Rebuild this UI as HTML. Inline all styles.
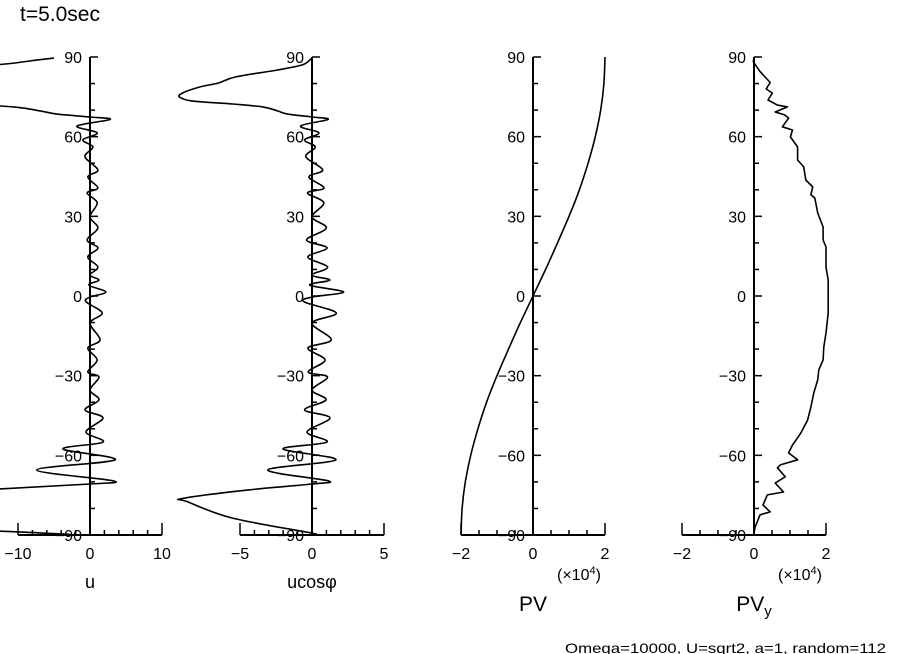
<!DOCTYPE html>
<html><head><meta charset="utf-8"><style>
html,body{margin:0;padding:0;background:#fff;}
svg{display:block;font-family:"Liberation Sans",sans-serif;}
</style></head><body>
<svg id="chart" width="904" height="654" viewBox="0 0 904 654" xmlns="http://www.w3.org/2000/svg">
<text x="20" y="21" font-size="21">t=5.0sec</text>
<text x="565" y="653" font-size="14" textLength="321" lengthAdjust="spacingAndGlyphs">Omega=10000, U=sqrt2, a=1, random=112</text>
<g id="panels"></g>
</svg>
<script>
// u profile (latitude, u)
const uLat = [89.6,88.9,87,85.1,82.5,80.2,78.7,76.4,74.9,73.4,72.3,71.2,69.7,68.5,67.4,66.5,64.0,61.4,58.8,56.1,52.4,47.5,44.8,40.7,38.8,35.1,29.8,25.6,21.1,18.1,14.7,10.9,7.9,6.0,4.1,1.5,-0.4,-2.2,-6.4,-10.2,-16.5,-19.6,-24.1,-28.6,-30.5,-35.4,-39.1,-42.9,-45.9,-51.2,-55.0,-57.6,-61.7,-65.5,-69.6,-70.8,-73.0,-76.2,-77.5,-83.6,-89.2,-89.6];
const uVal = [-5,-7.3,-13.4,-28,-40.6,-38.2,-39.8,-38.3,-35.3,-29,-18.1,-10.6,-6.9,-4.6,0,2.8,-1.8,1.0,-1.0,0.4,-0.7,1.1,-0.3,1.1,-0.4,1.0,0,1.1,-0.4,1.1,-0.3,1.1,0,1.25,-0.15,2.2,0,-0.55,1.7,0,1.4,-0.3,1.0,-0.3,1.25,0,1.25,-0.7,1.8,-0.55,1.8,-3.75,3.5,-7.4,3.2,0,-15,-37.6,-39.9,-49.8,-7,-4.3];
// PV profile
const pvLat = [90,80,70,60,50,40,30,20,10,0,-10,-20,-30,-40,-50,-60,-70,-80,-90];
const pvVal = [2.0,1.97,1.88,1.73,1.53,1.29,1.0,0.68,0.35,0,-0.35,-0.68,-1.0,-1.29,-1.53,-1.73,-1.88,-1.97,-2.0];
// PVy profile
const pvyLat = [90,88.2,84.5,80.4,78.0,76.4,73.8,71.9,71.2,69.3,68.2,67.0,63.7,62.5,59.9,56.1,51.2,48.6,43.7,41.1,38.1,36.9,31.3,26.0,21.1,18.5,10.9,6.0,-0.4,-6.4,-13.9,-19.2,-24.1,-27.8,-31.6,-36.5,-41.8,-46.7,-51.6,-53.4,-56.1,-59.1,-61.7,-63.6,-64.7,-68.1,-70.4,-73.8,-74.9,-78.7,-81.3,-82.4,-87.0,-89.2,-90];
const pvyVal = [0,-0.02,0.17,0.45,0.34,0.51,0.39,0.65,0.93,0.59,0.85,0.96,0.79,1.07,1.01,1.21,1.21,1.38,1.44,1.63,1.58,1.69,1.77,1.92,1.92,2.0,2.0,2.06,2.06,2.06,2.0,1.94,1.92,1.80,1.77,1.66,1.58,1.49,1.30,1.21,1.07,0.96,1.21,0.73,0.65,0.87,0.59,0.82,0.37,0.25,0.45,0.17,0.03,0,0];
const yTicks = [90,60,30,0,-30,-60,-90];

const NS="http://www.w3.org/2000/svg";
const root=document.getElementById('panels');
const yTop=57, yBot=535;
function yS(lat){return yTop+(90-lat)*(yBot-yTop)/180;}
function mk(tag,attrs,parent){const e=document.createElementNS(NS,tag);for(const k in attrs)e.setAttribute(k,attrs[k]);(parent||root).appendChild(e);return e;}
function smooth(pts){
  let d='M'+pts[0][0].toFixed(1)+','+pts[0][1].toFixed(1);
  for(let i=0;i<pts.length-1;i++){
    const p0=pts[Math.max(0,i-1)],p1=pts[i],p2=pts[i+1],p3=pts[Math.min(pts.length-1,i+2)];
    const c1x=p1[0]+(p2[0]-p0[0])/6,c1y=p1[1]+(p2[1]-p0[1])/6;
    const c2x=p2[0]-(p3[0]-p1[0])/6,c2y=p2[1]-(p3[1]-p1[1])/6;
    d+=' C'+c1x.toFixed(1)+','+c1y.toFixed(1)+' '+c2x.toFixed(1)+','+c2y.toFixed(1)+' '+p2[0].toFixed(1)+','+p2[1].toFixed(1);
  }
  return d;
}

function panel(name,x0,half,xlabels,minorStep,lats,vals,title,sub,scaleNote,useSmooth){
  const g=mk('g',{});
  
  
  const xS=v=>x0+v*(72/half);
  const ya=mk('line',{x1:x0,y1:yTop,x2:x0,y2:yBot,stroke:'#000','stroke-width':2},g);
  
  
  for(let l=-90;l<=90;l+=10){
    const major=(l%30===0);
    const t=mk('line',{x1:x0,y1:yS(l),x2:x0+(major?8:5),y2:yS(l),stroke:'#000','stroke-width':1.5},g);
    
    
  }
  yTicks.forEach(l=>{
    const t=mk('text',{x:x0-8,y:yS(l)+6,'font-size':16,'text-anchor':'end'},g);
    t.textContent=(l<0?'\u2212'+(-l):String(l));
    
    
  });
  const xa=mk('line',{x1:xS(-half),y1:yBot,x2:xS(half),y2:yBot,stroke:'#000','stroke-width':2},g);
  
  
  for(let v=-half;v<=half+1e-9;v+=minorStep){
    const major=Math.abs(v%half)<1e-9;
    const t=mk('line',{x1:xS(v),y1:yBot,x2:xS(v),y2:yBot-(major?12:5),stroke:'#000','stroke-width':1.5},g);
    
    
  }
  xlabels.forEach(v=>{
    const t=mk('text',{x:xS(v),y:559,'font-size':16,'text-anchor':'middle'},g);
    t.textContent=(v<0?'\u2212'+(-v):String(v));
    
    
  });
  const pts=lats.map((l,i)=>[xS(vals[i]),yS(l)]);
  const d=useSmooth?smooth(pts):pts.map((p,i)=>(i?'L':'M')+p[0].toFixed(1)+','+p[1].toFixed(1)).join(' ');
  const p=mk('path',{d:d,fill:'none',stroke:'#000','stroke-width':1.6,'stroke-linejoin':'round'},g);
  
  
  const big=(scaleNote);
  const tt=mk('text',{x:x0,y:big?611:588,'font-size':big?21:18,'text-anchor':'middle'},g);
  tt.textContent=title;
  if(sub){const s=mk('tspan',{'font-size':15,dy:5},tt);s.textContent=sub;}
  
  
  if(scaleNote){
    const n=mk('text',{x:xS(half)-48,y:580,'font-size':16},g);
    n.textContent='(\u00d710';
    const s=mk('tspan',{'font-size':11,dy:-6},n);s.textContent='4';
    const s2=mk('tspan',{'font-size':16,dy:6},n);s2.textContent=')';
    
    
  }
}
const ucos=uVal.map((u,i)=>u*Math.cos(uLat[i]*Math.PI/180));
panel('u',90,10,[-10,0,10],2,uLat,uVal,'u',null,false,true);
panel('ucos',312,5,[-5,0,5],1,uLat,ucos,'ucos\u03c6',null,false,true);
panel('pv',533,2,[-2,0,2],0.5,pvLat,pvVal,'PV',null,true,true);
panel('pvy',754,2,[-2,0,2],0.5,pvyLat,pvyVal,'PV','y',true,false);
</script>
</body></html>
